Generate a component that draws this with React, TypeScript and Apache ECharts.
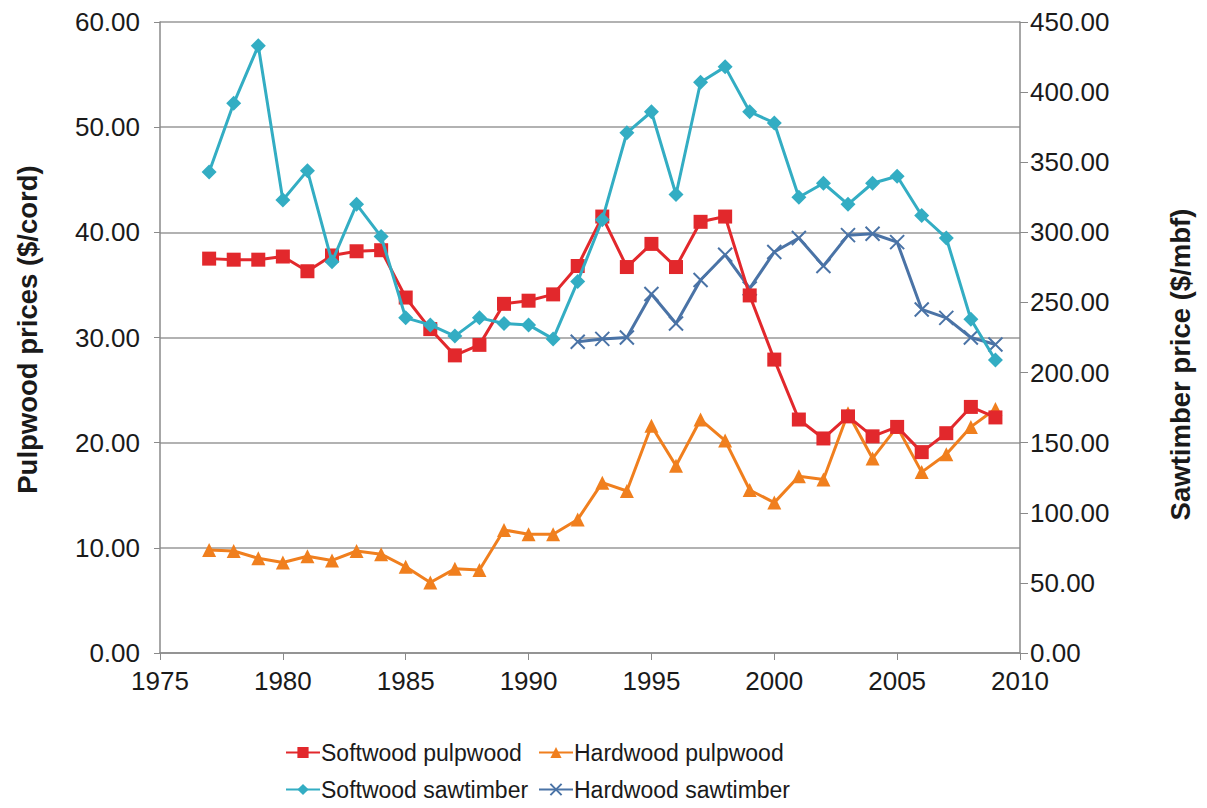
import React, { useEffect, useRef } from "react";
import * as echarts from "echarts";

const years = [1977,1978,1979,1980,1981,1982,1983,1984,1985,1986,1987,1988,1989,1990,1991,1992,1993,1994,1995,1996,1997,1998,1999,2000,2001,2002,2003,2004,2005,2006,2007,2008,2009];
const softwoodPulpwood = [37.5,37.4,37.4,37.7,36.3,37.8,38.2,38.3,33.8,30.8,28.3,29.3,33.2,33.5,34.1,36.8,41.5,36.7,38.9,36.7,41.0,41.5,34.0,27.9,22.2,20.4,22.5,20.6,21.5,19.1,20.9,23.4,22.4];
const hardwoodPulpwood = [9.8,9.7,9.0,8.6,9.2,8.8,9.7,9.4,8.2,6.7,8.0,7.9,11.7,11.3,11.3,12.7,16.2,15.4,21.6,17.8,22.2,20.2,15.5,14.3,16.8,16.5,22.8,18.5,21.5,17.2,18.9,21.5,23.2];
const softwoodSawtimber = [343,392,433,323,344,279,320,297,239,234,226,239,235,234,224,265,309,371,386,327,407,418,386,378,325,335,320,335,340,312,296,238,209];
const hardwoodYears = [1992,1993,1994,1995,1996,1997,1998,1999,2000,2001,2002,2003,2004,2005,2006,2007,2008,2009];
const hardwoodSawtimber = [222,224,225,256,235,266,284,260,286,296,276,298,299,293,245,239,225,220];

const FONT = "Liberation Sans, Arial, sans-serif";
const crossPath = "path://M0,0 L10,10 M10,0 L0,10";

export default function App() {
  const ref = useRef<HTMLDivElement>(null);
  useEffect(() => {
    if (!ref.current) return;
    const chart = echarts.init(ref.current, null, { renderer: "svg" });
    const pair = (xs: number[], ys: number[]) => xs.map((x, i) => [x, ys[i]]);
    const labelStyle = { color: "#1a1a1a", fontSize: 26, fontFamily: FONT };
    const lineAxis = { show: true, lineStyle: { color: "#8a8a8a", width: 1.5 } };
    const legendText = () => ({ fontSize: 23, color: "#1a1a1a", fontFamily: FONT, padding: [0, 0, 0, -4] });
    chart.setOption({
      animation: false,
      backgroundColor: "#ffffff",
      textStyle: { fontFamily: FONT },
      grid: { left: 160, right: 187, top: 22, bottom: 155, containLabel: false },
      legend: [
        {
          left: 285, top: 741, height: 66, padding: 0, orient: "vertical", itemGap: 14, itemWidth: 34, itemHeight: 14,
          data: ["Softwood pulpwood", "Softwood sawtimber"],
          textStyle: legendText(),
        },
        {
          left: 538, top: 741, height: 66, padding: 0, orient: "vertical", itemGap: 14, itemWidth: 34, itemHeight: 14,
          data: ["Hardwood pulpwood", "Hardwood sawtimber"],
          textStyle: legendText(),
        },
      ],
      xAxis: {
        type: "value", min: 1975, max: 2010, interval: 5,
        axisLine: lineAxis,
        axisTick: { show: true, length: 7, lineStyle: { color: "#8a8a8a" } },
        splitLine: { show: false },
        axisLabel: { ...labelStyle, margin: 15, formatter: (v: number) => String(v) },
      },
      yAxis: [
        {
          type: "value", min: 0, max: 60, interval: 10,
          name: "Pulpwood prices ($/cord)", nameLocation: "middle", nameGap: 119, nameRotate: 90,
          nameTextStyle: { fontSize: 27.5, fontWeight: "bold", color: "#1a1a1a", fontFamily: FONT, padding: [0, 0, 0, 16] },
          axisLine: lineAxis,
          axisTick: { show: true, length: 6, lineStyle: { color: "#8a8a8a" } },
          splitLine: { show: true, lineStyle: { color: "#999999", width: 1.5 } },
          axisLabel: { ...labelStyle, margin: 20, formatter: (v: number) => v.toFixed(2) },
        },
        {
          type: "value", min: 0, max: 450, interval: 50, position: "right",
          name: "Sawtimber price ($/mbf)", nameLocation: "middle", nameGap: 146, nameRotate: 90,
          nameTextStyle: { fontSize: 27.5, fontWeight: "bold", color: "#1a1a1a", fontFamily: FONT, padding: [0, 54, 0, 0] },
          axisLine: lineAxis,
          axisTick: { show: true, length: 8, lineStyle: { color: "#8a8a8a" } },
          splitLine: { show: false },
          axisLabel: { ...labelStyle, margin: 10, formatter: (v: number) => v.toFixed(2) },
        },
      ],
      series: [
        {
          name: "Softwood pulpwood", type: "line", yAxisIndex: 0,
          data: pair(years, softwoodPulpwood),
          symbol: "rect", symbolSize: 14,
          lineStyle: { color: "#e2282c", width: 3 },
          itemStyle: { color: "#e2282c" }, z: 4,
        },
        {
          name: "Hardwood pulpwood", type: "line", yAxisIndex: 0,
          data: pair(years, hardwoodPulpwood),
          symbol: "triangle", symbolSize: 14,
          lineStyle: { color: "#f07f1e", width: 3 },
          itemStyle: { color: "#f07f1e" }, z: 3,
        },
        {
          name: "Softwood sawtimber", type: "line", yAxisIndex: 1,
          data: pair(years, softwoodSawtimber),
          symbol: "diamond", symbolSize: 15,
          lineStyle: { color: "#33adc3", width: 3 },
          itemStyle: { color: "#33adc3" }, z: 5,
        },
        {
          name: "Hardwood sawtimber", type: "line", yAxisIndex: 1,
          data: pair(hardwoodYears, hardwoodSawtimber),
          symbol: crossPath, symbolSize: 14,
          lineStyle: { color: "#4a73a6", width: 3 },
          itemStyle: { color: "#4a73a6", borderColor: "#4a73a6", borderWidth: 2 }, z: 2,
        },
      ],
    });
    return () => chart.dispose();
  }, []);
  return (
    <div
      ref={ref}
      style={{ position: "fixed", left: 0, top: 0, width: 1207, height: 808, background: "#fff" }}
    />
  );
}
